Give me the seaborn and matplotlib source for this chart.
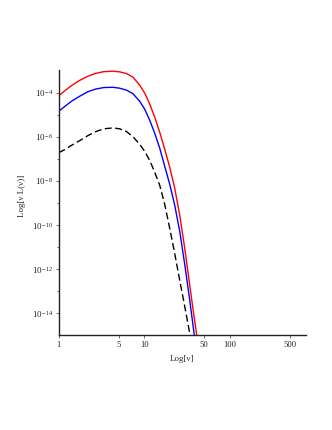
import numpy as np
import pandas as pd
import seaborn as sns
import matplotlib
matplotlib.use('Agg')
import matplotlib.pyplot as plt
from matplotlib.ticker import FixedLocator, FixedFormatter, NullFormatter

# values (nu, log10 of nu L(nu))
nu_red = [1.0, 1.166, 1.409, 1.748, 2.188, 2.693, 3.37, 4.296, 5.148, 6.219, 7.37, 8.83,
          10.11, 11.57, 13.24, 15.16, 17.35, 19.86, 22.72, 26.0, 29.76, 34.06, 37.94, 41.49]
log_red = [-4.14, -3.93, -3.68, -3.45, -3.26, -3.13, -3.05, -3.03, -3.06, -3.14, -3.30, -3.66,
           -4.02, -4.52, -5.11, -5.80, -6.57, -7.39, -8.34, -9.57, -11.07, -12.75, -14.07, -15.11]

nu_blue = [1.0, 1.166, 1.409, 1.748, 2.188, 2.693, 3.37, 4.296, 5.148, 6.219, 7.37, 8.83,
           10.11, 11.57, 13.24, 15.16, 17.35, 19.86, 22.72, 26.0, 29.76, 34.06, 38.25, 38.99]
log_blue = [-4.84, -4.64, -4.39, -4.17, -3.96, -3.84, -3.77, -3.76, -3.80, -3.89, -4.05, -4.39,
            -4.75, -5.25, -5.84, -6.52, -7.34, -8.16, -9.11, -10.30, -11.80, -13.43, -14.93, -15.10]

nu_black = [1.0, 1.166, 1.409, 1.748, 2.188, 2.693, 3.37, 4.296, 5.148, 6.219, 7.37, 8.83,
            10.11, 11.57, 13.24, 15.16, 17.35, 19.86, 22.72, 26.0, 29.76, 34.06, 34.62]
log_black = [-6.72, -6.59, -6.39, -6.18, -5.95, -5.77, -5.64, -5.60, -5.64, -5.77, -6.00, -6.34,
             -6.66, -7.07, -7.61, -8.20, -9.07, -10.16, -11.30, -12.52, -13.70, -14.93, -15.09]

x_ticks = [1, 5, 10, 50, 100, 500]
y_major = [-4, -6, -8, -10, -12, -14]
y_minor = [-5, -7, -9, -11, -13]

df = pd.concat([
    pd.DataFrame({'nu': nu_red, 'logL': log_red, 'curve': 'red'}),
    pd.DataFrame({'nu': nu_blue, 'logL': log_blue, 'curve': 'blue'}),
    pd.DataFrame({'nu': nu_black, 'logL': log_black, 'curve': 'black'}),
])
df['L'] = 10.0 ** df['logL']

sns.set_style('ticks')
plt.rcParams['font.family'] = ['Liberation Serif', 'DejaVu Serif']
plt.rcParams['mathtext.fontset'] = 'custom'
plt.rcParams['mathtext.rm'] = 'Liberation Serif'
plt.rcParams['mathtext.it'] = 'Liberation Serif:italic'

fig = plt.figure(figsize=(3.32, 4.30), dpi=100)
ax = fig.add_axes([0.177, 0.220, 0.745, 0.617])

sns.lineplot(data=df, x='nu', y='L', hue='curve', style='curve',
             palette={'red': '#ff0000', 'blue': '#0000ff', 'black': '#000000'},
             dashes={'red': '', 'blue': '', 'black': (5, 2.5)},
             sort=False, estimator=None, legend=False, lw=1.0, ax=ax)

ax.set_xscale('log')
ax.set_yscale('log')
ax.set_xlim(1, 780)
ax.set_ylim(1e-15, 10 ** -2.98)

ax.xaxis.set_major_locator(FixedLocator(x_ticks))
ax.xaxis.set_major_formatter(FixedFormatter([str(t) for t in x_ticks]))
ax.xaxis.set_minor_locator(FixedLocator([]))
ax.yaxis.set_major_locator(FixedLocator([10.0 ** e for e in y_major]))
ax.yaxis.set_major_formatter(FixedFormatter(['$10^{-\\,%d}$' % -e for e in y_major]))
ax.yaxis.set_minor_locator(FixedLocator([10.0 ** e for e in y_minor]))
ax.yaxis.set_minor_formatter(NullFormatter())

ax.tick_params(which='both', direction='out', length=2, width=0.6, color='#555555',
               labelsize=6.5, pad=2)
ax.tick_params(axis='x', labelsize=6.2)
ax.tick_params(which='minor', length=1.5)

for s in ['top', 'right']:
    ax.spines[s].set_visible(False)
for s in ['left', 'bottom']:
    ax.spines[s].set_linewidth(1.0)
    ax.spines[s].set_color('#222222')

ax.set_xlabel('Log[ν]', fontsize=6.5)
ax.set_ylabel('Log[ν L(ν)]', fontsize=6.5)
ax.xaxis.set_label_coords(0.5, -0.072)
ax.yaxis.set_label_coords(-0.133, 0.525)

fig.savefig('out.png', dpi=100)
